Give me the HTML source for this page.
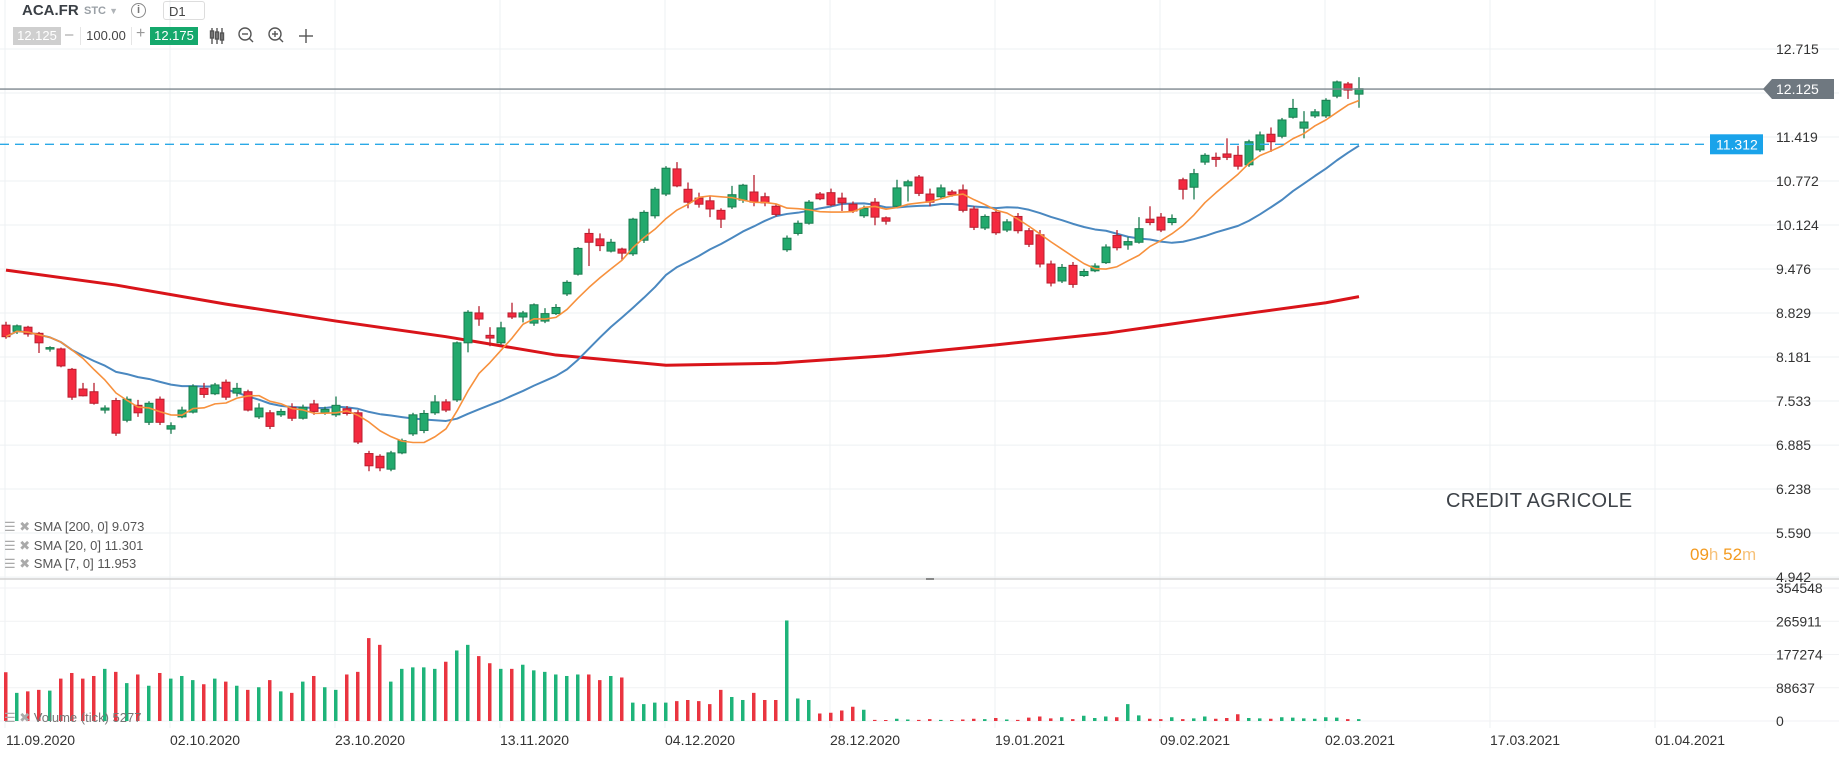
<!DOCTYPE html>
<html><head><meta charset="utf-8">
<style>
html,body{margin:0;padding:0;background:#fff;}
body{width:1839px;height:758px;overflow:hidden;position:relative;font-family:"Liberation Sans",sans-serif;}
svg{position:absolute;left:0;top:0;}
.tb{position:absolute;font-family:"Liberation Sans",sans-serif;}
</style></head><body>
<svg id="chart" width="1839" height="758" viewBox="0 0 1839 758" xmlns="http://www.w3.org/2000/svg"></svg>

<div class="tb" style="left:22px;top:2px;font-size:15px;font-weight:bold;color:#3a3f45;">ACA.FR</div>
<div class="tb" style="left:84px;top:5px;font-size:11px;font-weight:bold;color:#9aa0a6;">STC <span style="font-size:9px;color:#b0b4b8;">&#9660;</span></div>
<div class="tb" style="left:131px;top:3px;width:13px;height:13px;border:1.5px solid #888;border-radius:50%;font-size:11px;line-height:13px;text-align:center;color:#777;font-weight:bold;">i</div>
<div class="tb" style="left:163px;top:1px;width:42px;height:19px;border:1px solid #ddd;border-radius:3px;font-size:13px;line-height:19px;color:#444;padding-left:5px;box-sizing:border-box;">D1 <span style="font-size:9px;color:#bbb;margin-left:6px;">&#9660;</span></div>
<div class="tb" style="left:13px;top:27px;width:48px;height:18px;background:#cfcfcf;color:#fff;font-size:13px;line-height:18px;text-align:center;">12.125</div>
<div class="tb" style="left:65px;top:26px;font-size:15px;color:#999;">&#8211;</div>
<div class="tb" style="left:80px;top:27px;width:50px;height:18px;font-size:13px;line-height:18px;color:#444;text-align:center;border-left:1px solid #e5e5e5;border-right:1px solid #e5e5e5;">100.00</div>
<div class="tb" style="left:136px;top:25px;font-size:16px;color:#999;">+</div>
<div class="tb" style="left:150px;top:27px;width:48px;height:18px;background:#14a86c;color:#fff;font-size:13px;line-height:18px;text-align:center;">12.175</div>

<div class="tb" style="left:1446px;top:490px;font-size:20px;color:#3d4248;letter-spacing:0.3px;">CREDIT AGRICOLE</div>
<div class="tb" style="left:1690px;top:545px;font-size:17px;color:#f39a1e;">09<span style="color:#f7c27a;">h</span> 52<span style="color:#f7c27a;">m</span></div>

<div class="tb" style="left:4px;top:519px;font-size:13px;color:#555;"><span style="color:#aaa;">&#9776;</span> <span style="color:#aaa;">&#10006;</span> SMA [200, 0] 9.073</div>
<div class="tb" style="left:4px;top:538px;font-size:13px;color:#555;"><span style="color:#aaa;">&#9776;</span> <span style="color:#aaa;">&#10006;</span> SMA [20, 0] 11.301</div>
<div class="tb" style="left:4px;top:556px;font-size:13px;color:#555;"><span style="color:#aaa;">&#9776;</span> <span style="color:#aaa;">&#10006;</span> SMA [7, 0] 11.953</div>
<div class="tb" style="left:4px;top:710px;font-size:13px;color:#777;"><span style="color:#aaa;">&#9776;</span> <span style="color:#aaa;">&#10006;</span> Volume (tick) 5277</div>

<script>
const openP=[8.65,8.56,8.62,8.53,8.30,8.30,8.00,7.71,7.67,7.40,7.54,7.25,7.47,7.22,7.56,7.12,7.30,7.37,7.72,7.64,7.81,7.65,7.67,7.30,7.36,7.33,7.44,7.28,7.49,7.36,7.33,7.42,7.36,6.76,6.72,6.53,6.77,7.05,7.10,7.36,7.52,7.55,8.39,8.83,8.50,8.39,8.83,8.77,8.68,8.71,8.82,9.11,9.40,10.00,9.92,9.74,9.77,9.70,9.90,10.26,10.58,10.95,10.65,10.52,10.48,10.34,10.39,10.49,10.61,10.54,10.40,9.76,10.00,10.15,10.58,10.60,10.52,10.43,10.26,10.46,10.23,10.40,10.70,10.83,10.58,10.54,10.61,10.64,10.36,10.08,10.31,10.05,10.25,10.04,9.98,9.55,9.30,9.53,9.38,9.45,9.57,9.97,9.83,9.87,10.21,10.24,10.16,10.79,10.68,11.05,11.12,11.17,11.15,11.01,11.23,11.46,11.43,11.71,11.55,11.73,11.73,12.02,12.20,12.05];
const closeP=[8.48,8.64,8.52,8.39,8.32,8.05,7.59,7.61,7.50,7.43,7.06,7.56,7.36,7.50,7.22,7.17,7.40,7.75,7.63,7.77,7.59,7.72,7.40,7.43,7.16,7.38,7.28,7.44,7.38,7.41,7.47,7.35,6.93,6.58,6.55,6.77,6.95,7.33,7.35,7.52,7.40,8.39,8.84,8.74,8.46,8.61,8.77,8.83,8.95,8.82,8.91,9.28,9.78,9.87,9.82,9.87,9.71,10.21,10.31,10.65,10.96,10.70,10.46,10.43,10.36,10.21,10.57,10.71,10.46,10.45,10.28,9.93,10.15,10.46,10.51,10.42,10.45,10.33,10.37,10.24,10.18,10.67,10.76,10.59,10.46,10.67,10.57,10.34,10.09,10.25,10.01,10.17,10.04,9.84,9.55,9.27,9.50,9.25,9.44,9.52,9.80,9.79,9.88,10.07,10.16,10.05,10.22,10.65,10.88,11.15,11.09,11.12,10.99,11.35,11.45,11.35,11.67,11.84,11.64,11.79,11.96,12.23,12.11,12.13];
const highP=[8.70,8.66,8.64,8.55,8.34,8.32,8.02,7.80,7.80,7.47,7.58,7.60,7.55,7.53,7.60,7.22,7.45,7.78,7.80,7.80,7.85,7.80,7.70,7.50,7.40,7.42,7.50,7.48,7.55,7.45,7.60,7.46,7.40,6.80,6.75,6.80,6.98,7.36,7.40,7.62,7.56,8.41,8.87,8.93,8.62,8.70,8.98,8.86,8.97,8.90,8.96,9.31,9.80,10.07,10.00,9.92,9.79,10.23,10.34,10.68,10.99,11.05,10.75,10.60,10.55,10.37,10.70,10.73,10.86,10.60,10.44,9.97,10.19,10.49,10.61,10.66,10.60,10.47,10.41,10.52,10.25,10.79,10.79,10.86,10.66,10.72,10.64,10.72,10.40,10.28,10.36,10.21,10.30,10.08,10.05,9.60,9.55,9.58,9.48,9.56,9.84,10.05,9.95,10.24,10.40,10.30,10.28,10.82,10.95,11.18,11.19,11.40,11.29,11.38,11.50,11.56,11.70,11.98,11.80,11.83,11.99,12.25,12.23,12.30];
const lowP=[8.45,8.52,8.48,8.24,8.26,8.03,7.55,7.60,7.48,7.35,7.02,7.22,7.30,7.18,7.18,7.05,7.28,7.35,7.58,7.62,7.55,7.60,7.38,7.27,7.12,7.30,7.24,7.26,7.33,7.33,7.30,7.32,6.90,6.50,6.50,6.50,6.75,7.02,7.06,7.33,7.37,7.52,8.25,8.64,8.34,8.36,8.74,8.69,8.64,8.68,8.80,9.08,9.38,9.52,9.74,9.72,9.61,9.67,9.86,10.22,10.55,10.68,10.37,10.38,10.24,10.08,10.36,10.45,10.40,10.40,10.25,9.73,9.97,10.13,10.49,10.40,10.33,10.30,10.23,10.12,10.13,10.37,10.47,10.55,10.40,10.51,10.54,10.31,10.05,10.05,9.98,10.02,10.00,9.80,9.50,9.22,9.27,9.20,9.36,9.43,9.55,9.75,9.76,9.85,10.12,10.02,10.12,10.50,10.50,11.01,10.98,11.08,10.94,10.98,11.20,11.20,11.40,11.69,11.40,11.70,11.70,11.99,11.98,11.85];
const volumeK=[130,75,79,83,81,113,128,113,120,139,131,101,124,94,128,113,120,109,98,113,105,94,83,90,109,79,75,105,120,90,83,124,131,221,203,105,139,143,143,139,158,188,203,173,154,139,139,150,135,131,124,120,124,124,109,120,116,49,45,49,49,53,56,53,45,83,64,56,75,56,56,268,60,56,20,22,28,38,30,3,2,6,4,3,5,3,2,4,6,5,8,4,3,9,12,7,10,5,14,8,12,10,45,15,6,5,10,5,7,12,6,8,18,8,7,6,10,9,7,6,10,9,5,5];
const sma200Idx=[0,10,20,30,40,50,60,70,80,90,100,110,120,123];
const sma200Val=[9.46,9.24,8.96,8.71,8.48,8.21,8.06,8.09,8.20,8.36,8.53,8.76,8.98,9.07];
const priceTicks=[12.715,12.067,11.419,10.772,10.124,9.476,8.829,8.181,7.533,6.885,6.238,5.590,4.942];
const volTicks=[354548,265911,177274,88637,0];
const dateLabels=["11.09.2020","02.10.2020","23.10.2020","13.11.2020","04.12.2020","28.12.2020","19.01.2021","09.02.2021","02.03.2021","17.03.2021","01.04.2021"];
const lastPrice=12.125, alertPrice=11.312;

const NS="http://www.w3.org/2000/svg";
const svg=document.getElementById('chart');
function el(tag,attrs,parent){const e=document.createElementNS(NS,tag);for(const k in attrs)e.setAttribute(k,attrs[k]);(parent||svg).appendChild(e);return e;}
const xB=i=>6+11*i;
const yP=v=>93+(12.067-v)*67.94;
const yV=v=>721-v/354548*133;

// grid
const grid=el('g',{});


for(let k=0;k<11;k++){const x=5+165*k;const l=el('line',{x1:x,x2:x,y1:0,y2:728,stroke:'#eef0f3','stroke-width':1},grid);

}
priceTicks.forEach(v=>{const l=el('line',{x1:0,x2:1839,y1:yP(v),y2:yP(v),stroke:'#eef0f3','stroke-width':1},grid);

});
volTicks.forEach(v=>{const l=el('line',{x1:0,x2:1839,y1:yV(v),y2:yV(v),stroke:'#f1f2f4','stroke-width':1},grid);

});
// separator
const sep=el('line',{x1:0,x2:1839,y1:579,y2:579,stroke:'#d0d0d0','stroke-width':1.5});


el('rect',{x:926,y:578,width:8,height:2,fill:'#888'});

// price axis labels
priceTicks.forEach(v=>{const t=el('text',{x:1776,y:yP(v)+5,'font-size':14,fill:'#333','font-family':'Liberation Sans, sans-serif'});t.textContent=v.toFixed(3);

});
volTicks.forEach(v=>{const t=el('text',{x:1776,y:yV(v)+5,'font-size':14,fill:'#333','font-family':'Liberation Sans, sans-serif'});t.textContent=String(v);

});
dateLabels.forEach((d,k)=>{const t=el('text',{x:5+165*k+(k==0?1:0),y:745,'font-size':14,fill:'#333','font-family':'Liberation Sans, sans-serif'});t.textContent=d;

});

// volume bars
volumeK.forEach((v,i)=>{const up=closeP[i]>=openP[i];const h=Math.max(1,721-yV(v*1000));
const r=el('rect',{x:xB(i)-2,y:721-h,width:3.5,height:h,fill:up?'#1eb47a':'#ea3440'});

});

// SMAs
function sma(n){return closeP.map((c,i)=>{const s=Math.max(0,i-n+1);let t=0;for(let j=s;j<=i;j++)t+=closeP[j];return t/(i-s+1);});}
function poly(xs,ys,color,w,name){const p=el('polyline',{points:xs.map((x,k)=>x+','+ys[k]).join(' '),fill:'none',stroke:color,'stroke-width':w,'stroke-linejoin':'round'});

}
poly(sma200Idx.map(xB),sma200Val.map(yP),'#d9141a',3,'sma200-line');
const s20=sma(20),s7=sma(7);
poly(closeP.map((c,i)=>xB(i)),s20.map(yP),'#4a88c0',2,'sma20-line');

// candles
closeP.forEach((c,i)=>{const o=openP[i];const up=c>=o;const x=xB(i);
const fill=up?'#22a96d':'#f4293f',stroke=up?'#1b7d50':'#b81f2f';
const g=el('g',{});


el('line',{x1:x,x2:x,y1:yP(highP[i]),y2:yP(lowP[i]),stroke:stroke,'stroke-width':1.3},g);
const top=yP(Math.max(o,c)),bot=yP(Math.min(o,c));
el('rect',{x:x-4,y:top,width:8,height:Math.max(1.5,bot-top),fill:fill,stroke:stroke,'stroke-width':1},g);});
poly(closeP.map((c,i)=>xB(i)),s7.map(yP),'#f7913d',1.6,'sma7-line');

// last price line
const lp=el('line',{x1:0,x2:1764,y1:yP(lastPrice),y2:yP(lastPrice),stroke:'#7d868e','stroke-width':1.3});


const lb=el('path',{d:`M1763 ${yP(lastPrice)} L1772 ${yP(lastPrice)-10} H1834 V${yP(lastPrice)+10} H1772 Z`,fill:'#6f7880'});


const lt=el('text',{x:1776,y:yP(lastPrice)+5,'font-size':14,fill:'#fff','font-family':'Liberation Sans, sans-serif'});lt.textContent=lastPrice.toFixed(3);


// alert line
const al=el('line',{x1:0,x2:1710,y1:yP(alertPrice),y2:yP(alertPrice),stroke:'#2aa9e6','stroke-width':1.3,'stroke-dasharray':'9,6'});


const ab=el('rect',{x:1710,y:yP(alertPrice)-10,width:53,height:20,fill:'#1aa3ea'});


const at=el('text',{x:1716,y:yP(alertPrice)+5,'font-size':14,fill:'#fff','font-family':'Liberation Sans, sans-serif'});at.textContent=alertPrice.toFixed(3);



// toolbar icons
const ic=el('g',{stroke:'#555','stroke-width':1.4,fill:'none'});


[212,217,222].forEach((x,k)=>{el('line',{x1:x,x2:x,y1:28,y2:44},ic);el('rect',{x:x-1.5,y:31+k,width:3,height:7},ic);});
el('circle',{cx:245,cy:34,r:6},ic);el('line',{x1:242,x2:248,y1:34,y2:34},ic);el('line',{x1:249,x2:253,y1:38,y2:42},ic);
el('circle',{cx:275,cy:34,r:6},ic);el('line',{x1:272,x2:278,y1:34,y2:34},ic);el('line',{x1:275,x2:275,y1:31,y2:37},ic);el('line',{x1:279,x2:283,y1:38,y2:42},ic);
el('line',{x1:299,x2:313,y1:36,y2:36},ic);el('line',{x1:306,x2:306,y1:29,y2:43},ic);
</script>
</body></html>
